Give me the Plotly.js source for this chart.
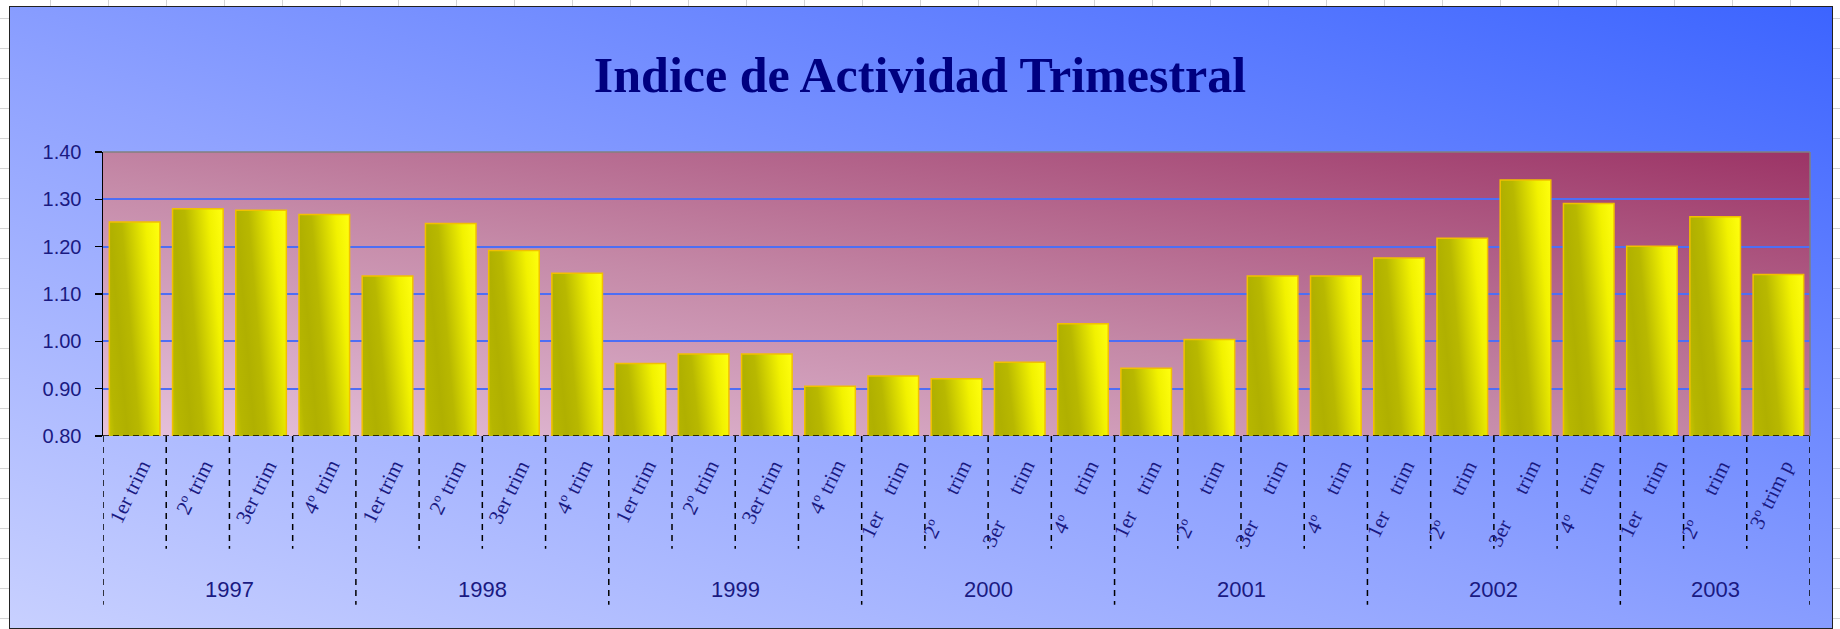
<!DOCTYPE html>
<html>
<head>
<meta charset="utf-8">
<script src="https://cdn.plot.ly/plotly-3.0.1.min.js"></script>
<style>
html,body{margin:0;padding:0;width:1840px;height:629px;overflow:hidden;background:#fff;}
#sheet{position:absolute;left:0;top:0;width:1840px;height:629px;
  background-image:linear-gradient(to right,#d4d4d4 1px,transparent 1px),linear-gradient(to bottom,#d4d4d4 1px,transparent 1px);
  background-size:58px 30px;background-position:-8px 18px;}
#frame{position:absolute;left:9px;top:6px;width:1822px;height:621px;border:1px solid #222;
  background:linear-gradient(to top right,#c8d0ff 0%,#8fa2ff 45%,#3c64ff 100%);}
#plotbg{position:absolute;left:103px;top:152px;width:1707px;height:284px;
  background:linear-gradient(to top right,#e6c2dc 0%,#c58aa8 45%,#9c3466 100%);}
#chart{position:absolute;left:0;top:0;width:1840px;height:629px;}
</style>
</head>
<body>
<div id="sheet"></div>
<div id="frame"></div>
<div id="plotbg"></div>
<div id="chart"></div>
<script>
const years = [
  '1997','1997','1997','1997',
  '1998','1998','1998','1998',
  '1999','1999','1999','1999',
  '2000','2000','2000','2000',
  '2001','2001','2001','2001',
  '2002','2002','2002','2002',
  '2003','2003','2003'
];
const quarters = [
  '1er trim','2º trim','3er trim','4º trim',
  '1er trim','2º trim','3er trim','4º trim',
  '1er trim','2º trim','3er trim','4º trim',
  '1er\u00a0\u00a0\u00a0\u00a0trim','2º\u00a0\u00a0\u00a0\u00a0\u00a0\u00a0trim','3er\u00a0\u00a0\u00a0\u00a0\u00a0\u00a0trim','4º\u00a0\u00a0\u00a0\u00a0\u00a0trim',
  '1er\u00a0\u00a0\u00a0\u00a0trim','2º\u00a0\u00a0\u00a0\u00a0\u00a0\u00a0trim','3er\u00a0\u00a0\u00a0\u00a0\u00a0\u00a0trim','4º\u00a0\u00a0\u00a0\u00a0\u00a0trim',
  '1er\u00a0\u00a0\u00a0\u00a0trim','2º\u00a0\u00a0\u00a0\u00a0\u00a0\u00a0trim','3er\u00a0\u00a0\u00a0\u00a0\u00a0\u00a0trim','4º\u00a0\u00a0\u00a0\u00a0\u00a0trim',
  '1er\u00a0\u00a0\u00a0\u00a0trim','2º\u00a0\u00a0\u00a0\u00a0\u00a0\u00a0trim','3º trim p'
];
const values = [
  1.252, 1.280, 1.277, 1.268,
  1.138, 1.249, 1.192, 1.144,
  0.953, 0.973, 0.973, 0.905,
  0.927, 0.921, 0.956, 1.037,
  0.943, 1.004, 1.138, 1.138,
  1.176, 1.218, 1.341, 1.291,
  1.201, 1.263, 1.141
];
const titleText = 'Indice de Actividad Trimestral';

const idx = values.map((v, i) => i);
const navy = '#1a1a82';

const annotations = [];
quarters.forEach((q, i) => {
  annotations.push({
    x: i, xref: 'x', y: -0.062, yref: 'paper',
    text: q, showarrow: false, textangle: -64,
    xanchor: 'right', yanchor: 'top', xshift: 23,
    font: {family: 'Liberation Serif, Times New Roman, serif', size: 21, color: navy}
  });
});
// year group labels
const groups = [];
years.forEach((y, i) => {
  if (!groups.length || groups[groups.length - 1].year !== y) groups.push({year: y, start: i, end: i});
  else groups[groups.length - 1].end = i;
});
groups.forEach(g => {
  annotations.push({
    x: (g.start + g.end) / 2, xref: 'x', y: -0.541, yref: 'paper',
    text: g.year, showarrow: false, xanchor: 'center', yanchor: 'middle',
    font: {family: 'Liberation Sans Narrow, Liberation Sans, Arial, sans-serif', size: 22, color: navy}
  });
});

const shapes = [];
// dashed category axis line
shapes.push({type: 'line', xref: 'paper', x0: 0, x1: 1, yref: 'y', y0: 0.8, y1: 0.8,
  line: {color: '#000', width: 1.5, dash: '6px,4px'}});
// dashed separators
for (let b = 0; b <= years.length; b++) {
  const isYear = b === 0 || b === years.length || years[b] !== years[b - 1];
  shapes.push({type: 'line', xref: 'x', x0: b - 0.5, x1: b - 0.5, yref: 'paper', y0: 0, y1: isYear ? -0.594 : -0.397,
    line: {color: '#000', width: 1.5, dash: '6px,5px'}});
}
// plot area top/right border
shapes.push({type: 'line', xref: 'paper', x0: 0, x1: 1, yref: 'paper', y0: 1, y1: 1, line: {color: '#808080', width: 1.5}});
shapes.push({type: 'line', xref: 'paper', x0: 1, x1: 1, yref: 'paper', y0: 0, y1: 1, line: {color: '#808080', width: 1.5}});

const data = [{
  type: 'bar', x: idx, y: values,
  marker: {color: '#e0e000', line: {color: '#f2c000', width: 1.5}},
  hoverinfo: 'skip'
}];

const layout = {
  width: 1840, height: 629,
  margin: {l: 103, r: 30, t: 152, b: 193},
  paper_bgcolor: 'rgba(0,0,0,0)', plot_bgcolor: 'rgba(0,0,0,0)',
  bargap: 0.2, showlegend: false,
  title: {text: titleText, x: 0.5, xanchor: 'center', y: 0.882, yanchor: 'middle',
    font: {family: 'Liberation Serif, Times New Roman, serif', size: 50, color: '#000080', weight: 'bold'}},
  xaxis: {type: 'linear', range: [-0.5, years.length - 0.5], showticklabels: false, showgrid: false,
    zeroline: false, showline: false, ticks: '', fixedrange: true},
  yaxis: {range: [0.8, 1.4], dtick: 0.1, tick0: 0.8, tickformat: '.2f', showline: true, linecolor: '#000', linewidth: 1.5,
    ticks: 'outside', ticklen: 7, tickcolor: '#000', tickwidth: 1.5, ticklabelstandoff: 9,
    gridcolor: '#4d6ef5', gridwidth: 2, zeroline: false,
    tickfont: {family: 'Liberation Sans, Arial, sans-serif', size: 20, color: navy}},
  annotations: annotations,
  shapes: shapes
};

Plotly.newPlot('chart', data, layout, {staticPlot: true, displayModeBar: false}).then(gd => {
  const svg = gd.querySelector('svg.main-svg');
  const ns = 'http://www.w3.org/2000/svg';
  let defs = svg.querySelector('defs');
  if (!defs) { defs = document.createElementNS(ns, 'defs'); svg.insertBefore(defs, svg.firstChild); }
  const lg = document.createElementNS(ns, 'linearGradient');
  lg.setAttribute('id', 'barGrad');
  lg.setAttribute('x1', '0'); lg.setAttribute('y1', '1');
  lg.setAttribute('x2', '1'); lg.setAttribute('y2', '0');
  [[0, '#ffff00'], [0.14, '#f2f200'], [0.38, '#b6b600'], [0.5, '#b0b000'], [0.62, '#b8b800'], [0.86, '#f2f200'], [1, '#ffff10']]
    .forEach(([o, c]) => {
      const s = document.createElementNS(ns, 'stop');
      s.setAttribute('offset', o); s.setAttribute('stop-color', c);
      lg.appendChild(s);
    });
  defs.appendChild(lg);
  gd.querySelectorAll('.bars .point path').forEach(p => { p.style.fill = 'url(#barGrad)'; });
});
</script>
</body>
</html>
